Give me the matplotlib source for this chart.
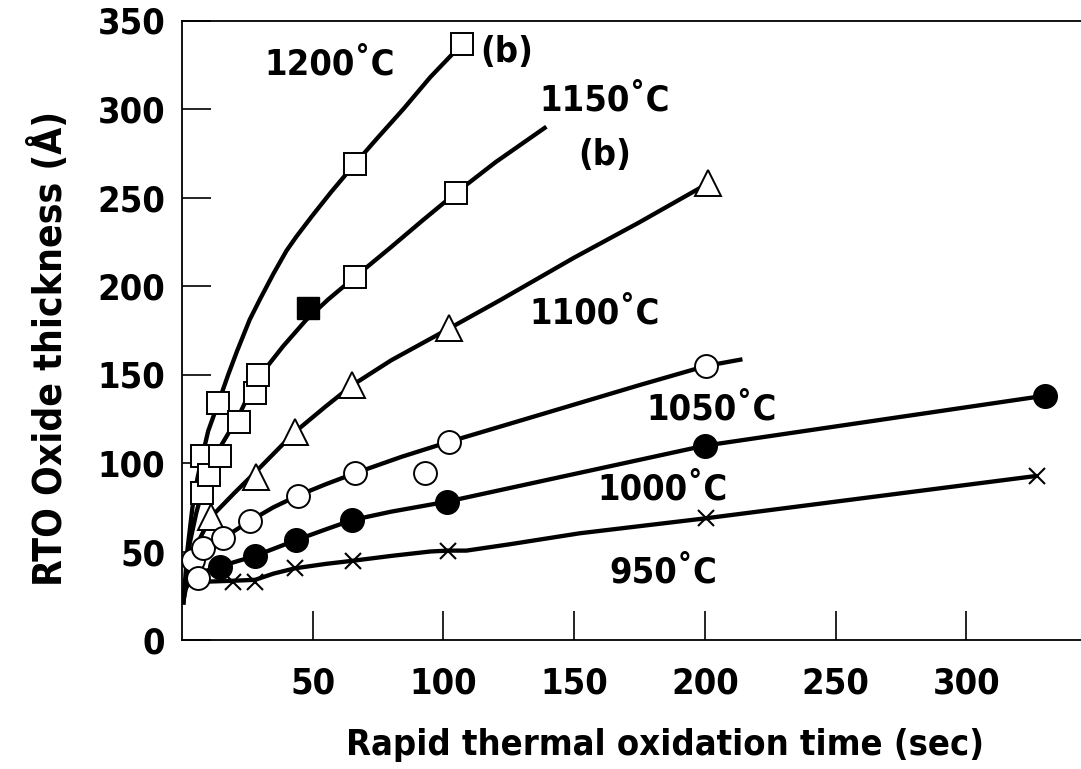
import matplotlib
matplotlib.use("Agg")
import matplotlib.pyplot as plt
from matplotlib import font_manager as fm

# pick a bold condensed face if one is installed, else Roboto
cond = [f for f in fm.fontManager.ttflist
        if any(k in f.fname for k in ("Condensed", "Narrow", "Cond"))]
cond_bold = [f for f in cond if str(f.weight) in ("700", "bold")] or cond
if cond_bold:
    family = cond_bold[0].name
    stretch = cond_bold[0].stretch
else:
    family = "Roboto"
    stretch = "normal"
plt.rcParams['font.family'] = [family, 'DejaVu Sans']
plt.rcParams['font.stretch'] = stretch
plt.rcParams['font.weight'] = 'bold'

# fitted curves (time in sec, thickness in Angstrom)
c1200_t = [0.5, 2, 4, 6, 7.8, 10, 13.9, 17.7, 21, 25.9, 30, 35, 40, 43.8, 50, 57, 66.1, 75, 84.7, 95, 107.3]
c1200_v = [20, 50, 75, 92, 104, 118, 134, 150, 163, 181, 193, 207, 220, 228, 240, 253, 269, 284, 300, 318, 337]
c1150_t = [0.5, 3, 5.5, 8.1, 11.4, 15, 21.5, 26, 32.3, 38.7, 47.6, 56, 66.1, 80, 92, 104.7, 120, 139.4]
c1150_v = [20, 55, 72, 86, 100, 110, 126, 140, 154, 166, 181, 192.5, 205, 222, 237, 252.5, 270, 290]
c1100_t = [0.5, 3, 6, 11.1, 20, 28.2, 43.2, 55, 65.2, 80, 102.2, 121.7, 150, 175, 201.3]
c1100_v = [22, 40, 55, 69.5, 83, 95, 117.5, 132, 144, 158, 176, 192, 216, 236, 258]
c1050_t = [0.5, 2, 4, 8.1, 15.7, 25.9, 35, 44.2, 55, 66.1, 84, 102.2, 125, 150, 175, 200.4, 214.4]
c1050_v = [25, 35, 42, 50, 57.5, 67.2, 75, 81.5, 88, 94.2, 103.5, 112, 122, 133, 144, 154.8, 158.6]
c1000_t = [1, 3, 6, 10, 14.5, 20, 27.9, 35, 43.8, 55, 65.2, 80, 101.2, 200, 330]
c1000_v = [28, 33, 37, 39.5, 41.4, 44, 47.5, 51.5, 56.5, 62.5, 67.8, 72.5, 78.1, 109.8, 138]
c950_t = [3, 10, 20, 28, 35, 43.2, 55, 65.5, 80, 95, 101.8, 108.8, 125, 152.2, 200.6, 326.9]
c950_v = [31, 33, 33.5, 34, 37.5, 40.5, 43, 44.8, 47.5, 50, 50.5, 50.5, 54, 60.3, 68.8, 92.7]

# measured points
sq1200_t = [7.8, 13.9, 66.1, 107.3]
sq1200_v = [104, 134, 269, 337]
sq1150_t = [7.7, 10.3, 14.5, 21.9, 27.9, 29.2, 66.1, 104.7]
sq1150_v = [83, 93, 104, 123, 139.5, 149.7, 205.3, 252.7]
sq1150_filled_t = [48.3]
sq1150_filled_v = [187.4]
tri1100_t = [11.1, 28.2, 43.2, 65.2, 102.2, 201.3]
tri1100_v = [69.5, 92.3, 117.5, 144, 176, 258]
circ1050_t = [4.2, 6.2, 8.1, 15.7, 25.9, 44.2, 66.1, 93.0, 102.2, 200.4]
circ1050_v = [45.2, 34.9, 51.8, 57.5, 67.2, 81.5, 94.2, 94.4, 112, 154.8]
dot1000_t = [14.5, 27.9, 43.8, 65.2, 101.2, 200, 330]
dot1000_v = [41.4, 47.5, 56.5, 67.8, 78.1, 109.8, 138]
x950_t = [19.6, 27.9, 43.2, 65.5, 101.8, 200.6, 326.9]
x950_v = [33, 33, 40.5, 44.8, 50.5, 68.8, 92.7]

labels = ["1200˚C", "(b)", "1150˚C", "(b)", "1100˚C", "1050˚C", "1000˚C", "950˚C"]
label_t = [56.6, 124.1, 161.8, 161.8, 158, 202.6, 184, 184]
label_v = [325, 332, 305, 274, 184.6, 130, 85.3, 38.4]

W, H = 1081, 769
fig = plt.figure(figsize=(W / 100, H / 100), dpi=100)
ax = fig.add_axes([182 / W, (H - 640) / H, (W - 182) / W, (640 - 20.5) / H])

lw = 3.1
for t, v in [(c1200_t, c1200_v), (c1150_t, c1150_v), (c1100_t, c1100_v),
             (c1050_t, c1050_v), (c1000_t, c1000_v), (c950_t, c950_v)]:
    ax.plot(t, v, color="black", lw=lw, solid_capstyle="butt",
            solid_joinstyle="round", zorder=2)

open_kw = dict(ls="none", mfc="white", mec="black", mew=1.4, zorder=3)
ax.plot(sq1200_t, sq1200_v, marker="s", ms=15.5, **open_kw)
ax.plot(sq1150_t, sq1150_v, marker="s", ms=15.5, **open_kw)
ax.plot(sq1150_filled_t, sq1150_filled_v, marker="s", ms=15.5, ls="none",
        mfc="black", mec="black", zorder=3)
ax.plot(tri1100_t, tri1100_v, marker="^", ms=19, **open_kw)
ax.plot(circ1050_t, circ1050_v, marker="o", ms=16.5, **open_kw)
ax.plot(dot1000_t, dot1000_v, marker="o", ms=17, ls="none",
        mfc="black", mec="black", zorder=3)
ax.plot(x950_t, x950_v, marker="x", ms=11, mew=1.5, ls="none",
        color="black", zorder=3)

for s, t, v in zip(labels, label_t, label_v):
    ax.text(t, v, s, ha="center", va="center", fontsize=26, fontweight="bold")

ax.set_xlim(0, (W - 182) / 2.614)
ax.set_ylim(0, 350)
ax.set_xticks([50, 100, 150, 200, 250, 300])
ax.set_yticks([0, 50, 100, 150, 200, 250, 300, 350])
ax.tick_params(direction="in", length=21, width=1.2, labelsize=26)
ax.tick_params(axis="y", pad=12)
ax.tick_params(axis="x", pad=19)
ax.spines["right"].set_visible(False)
for sp in ["left", "top", "bottom"]:
    ax.spines[sp].set_linewidth(1.3)

ax.set_xlabel("Rapid thermal oxidation time (sec)", fontsize=26, fontweight="bold")
ax.set_ylabel("RTO Oxide thickness (Å)", fontsize=28, fontweight="bold")
ax.xaxis.set_label_coords(665 / W, 1 - 745 / H, transform=fig.transFigure)
ax.yaxis.set_label_coords(50 / W, 1 - 348 / H, transform=fig.transFigure)
ax.xaxis.label.set_va("center")
ax.yaxis.label.set_va("center")

fig.savefig("out.png", dpi=100)
